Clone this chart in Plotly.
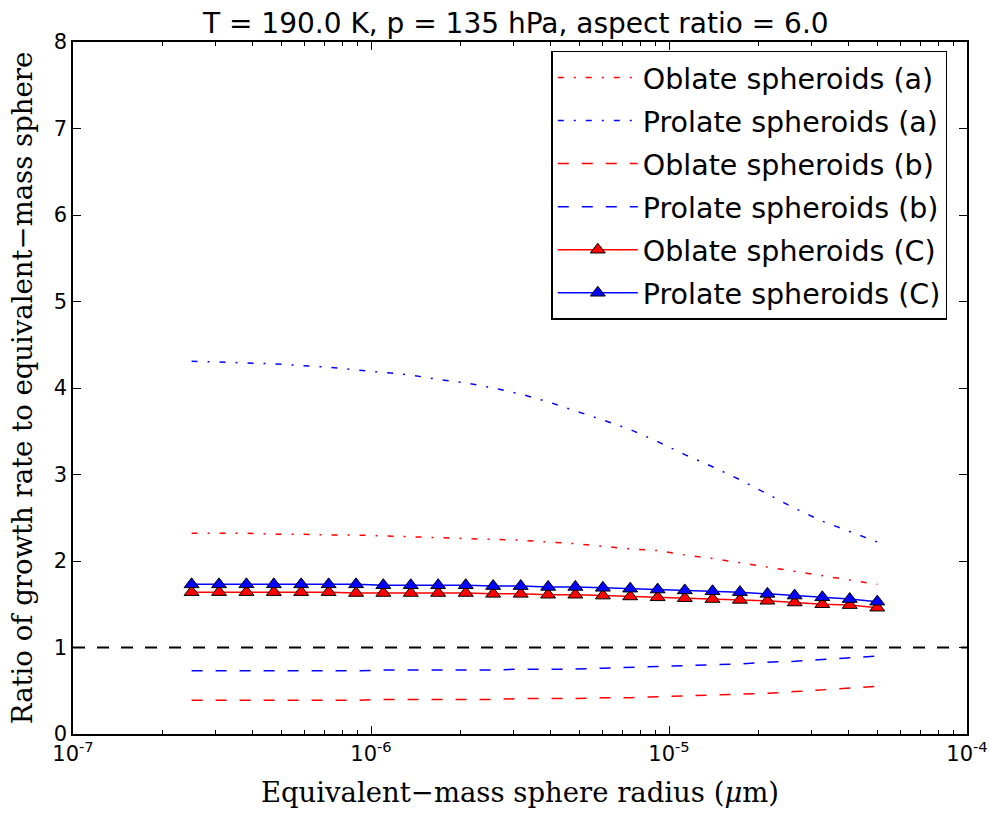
import plotly.graph_objects as go

radius = [2.50e-7, 3.09e-7, 3.82e-7, 4.72e-7, 5.83e-7, 7.21e-7, 8.91e-7, 1.10e-6,
          1.36e-6, 1.68e-6, 2.08e-6, 2.57e-6, 3.18e-6, 3.93e-6, 4.85e-6, 6.00e-6,
          7.41e-6, 9.16e-6, 1.13e-5, 1.40e-5, 1.73e-5, 2.14e-5, 2.64e-5, 3.27e-5,
          4.04e-5, 5.00e-5]

oblate_a = [2.32, 2.32, 2.32, 2.31, 2.31, 2.30, 2.30, 2.29, 2.28, 2.27, 2.26, 2.25, 2.24,
            2.22, 2.20, 2.17, 2.14, 2.12, 2.07, 2.03, 1.98, 1.93, 1.88, 1.83, 1.78, 1.73]
prolate_a = [4.31, 4.30, 4.29, 4.28, 4.26, 4.24, 4.21, 4.18, 4.15, 4.10, 4.06, 4.00, 3.93,
             3.84, 3.74, 3.63, 3.52, 3.38, 3.23, 3.09, 2.94, 2.77, 2.61, 2.46, 2.34, 2.22]
oblate_b = [0.39, 0.39, 0.39, 0.39, 0.39, 0.39, 0.39, 0.40, 0.40, 0.40, 0.40, 0.40, 0.41,
            0.41, 0.41, 0.42, 0.42, 0.43, 0.44, 0.45, 0.46, 0.47, 0.49, 0.51, 0.53, 0.55]
prolate_b = [0.73, 0.73, 0.73, 0.73, 0.73, 0.73, 0.73, 0.74, 0.74, 0.74, 0.74, 0.74, 0.75,
             0.75, 0.75, 0.76, 0.77, 0.78, 0.79, 0.80, 0.81, 0.83, 0.84, 0.86, 0.88, 0.90]
oblate_c = [1.64, 1.64, 1.64, 1.64, 1.64, 1.64, 1.63, 1.63, 1.63, 1.63, 1.63, 1.62, 1.62,
            1.61, 1.61, 1.60, 1.59, 1.58, 1.57, 1.56, 1.55, 1.54, 1.52, 1.50, 1.49, 1.46]
prolate_c = [1.73, 1.73, 1.73, 1.73, 1.73, 1.73, 1.73, 1.72, 1.72, 1.72, 1.72, 1.71, 1.71,
             1.70, 1.70, 1.69, 1.68, 1.67, 1.66, 1.65, 1.64, 1.62, 1.60, 1.58, 1.56, 1.53]

reference_level = 1.0
x_limits = [1e-7, 1e-4]
x_tickvals = [1e-7, 1e-6, 1e-5, 1e-4]
x_ticktext = ["10<sup>-7</sup>", "10<sup>-6</sup>", "10<sup>-5</sup>", "10<sup>-4</sup>"]
y_tickvals = [0, 1, 2, 3, 4, 5, 6, 7, 8]

minor_vals = [m * 10.0 ** e for e in (-7, -6, -5) for m in range(2, 10)]

DASHDOT = "6px,10px,2px,10px"
DASH = "11px,13px"

fig = go.Figure()

fig.add_trace(go.Scatter(x=radius, y=oblate_a, mode="lines", name="Oblate spheroids (a)",
                         legendgroup="g1", line=dict(color="#ff0000", width=1.5, dash=DASHDOT)))
fig.add_trace(go.Scatter(x=radius, y=prolate_a, mode="lines", name="Prolate spheroids (a)",
                         legendgroup="g2", line=dict(color="#0000ff", width=1.5, dash=DASHDOT)))
fig.add_trace(go.Scatter(x=radius, y=oblate_b, mode="lines", name="Oblate spheroids (b)",
                         legendgroup="g3", line=dict(color="#ff0000", width=1.5, dash=DASH)))
fig.add_trace(go.Scatter(x=radius, y=prolate_b, mode="lines", name="Prolate spheroids (b)",
                         legendgroup="g4", line=dict(color="#0000ff", width=1.5, dash=DASH)))
fig.add_trace(go.Scatter(x=radius, y=oblate_c, mode="lines+markers", name="Oblate spheroids (C)",
                         legendgroup="g5", line=dict(color="#ff0000", width=1.5),
                         marker=dict(symbol="triangle-up", size=13, color="#ff0000",
                                     line=dict(color="black", width=1))))
fig.add_trace(go.Scatter(x=radius, y=prolate_c, mode="lines+markers", name="Prolate spheroids (C)",
                         legendgroup="g6", line=dict(color="#0000ff", width=1.5),
                         marker=dict(symbol="triangle-up", size=13, color="#0000ff",
                                     line=dict(color="black", width=1))))

fig.add_trace(go.Scatter(x=x_limits, y=[reference_level, reference_level], mode="lines",
                         showlegend=False, line=dict(color="black", width=2, dash="12px,12px"),
                         hoverinfo="skip"))

axis_common = dict(showgrid=False, zeroline=False, showline=True, linecolor="black",
                   linewidth=1.5, mirror="allticks", ticks="inside", tickcolor="black",
                   tickwidth=1, ticklen=8, automargin=False,
                   tickfont=dict(family="DejaVu Sans", size=21, color="black"))

fig.update_layout(
    width=990, height=814,
    margin=dict(l=73, r=23, t=42, b=80),
    paper_bgcolor="white", plot_bgcolor="white",
    title=dict(text="T = 190.0 K, p = 135 hPa, aspect ratio = 6.0",
               font=dict(family="DejaVu Sans", size=28, color="black"),
               xref="container", x=0.521, xanchor="center",
               yref="container", y=0.971, yanchor="middle"),
    xaxis=dict(type="log", range=[-7, -4], tickvals=x_tickvals, ticktext=x_ticktext,
               title=dict(text="Equivalent\u2212mass sphere radius (<i>\u03bc</i>m)",
                          font=dict(family="DejaVu Serif", size=27.5, color="black"),
                          standoff=18),
               minor=dict(tickvals=minor_vals, ticks="inside", ticklen=4, tickcolor="black",
                          tickwidth=1, showgrid=False),
               **axis_common),
    yaxis=dict(range=[0, 8], tickvals=y_tickvals,
               title=dict(text="Ratio of growth rate to equivalent\u2212mass sphere",
                          font=dict(family="DejaVu Serif", size=27.5, color="black"),
                          standoff=13),
               **axis_common),
    legend=dict(x=0.535, y=0.987, xanchor="left", yanchor="top",
                bgcolor="white", bordercolor="black", borderwidth=1.5,
                font=dict(family="DejaVu Sans", size=28.5, color="black"),
                tracegroupgap=3, itemwidth=80),
    showlegend=True,
)

fig.write_html("out.html", config={"displayModeBar": False},
               post_script="document.body.style.margin='0';")
